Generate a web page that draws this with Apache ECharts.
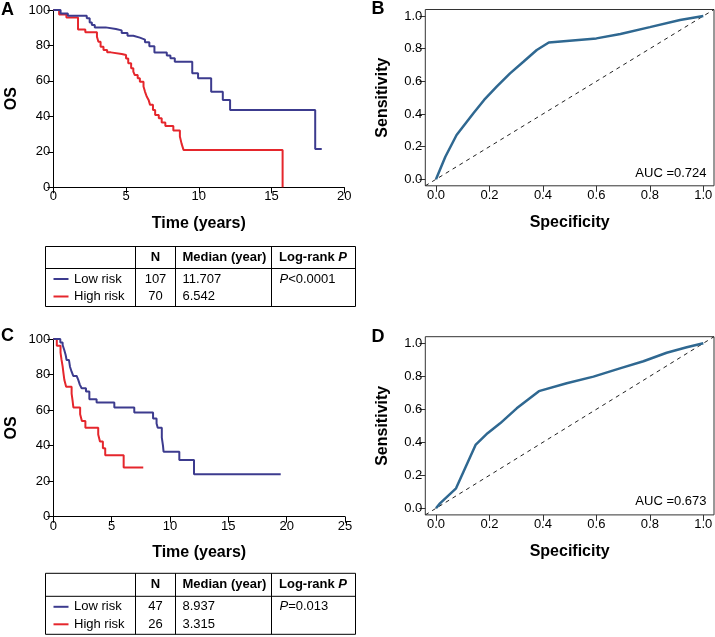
<!DOCTYPE html>
<html><head><meta charset="utf-8">
<script src="https://cdn.jsdelivr.net/npm/echarts@6/dist/echarts.min.js"></script>
<style>html,body{margin:0;padding:0;background:#fff}#c{width:715px;height:637px}</style>
</head><body><div id="c"></div>
<script>
// ---------- DATA ----------
// Panel A: Kaplan-Meier (time in years, OS %)
const kmA_low_t  = [0, 0.5, 1.0, 2.3, 2.5, 2.65, 2.85, 3.6, 4.3, 4.7, 5.1, 5.5, 5.95, 6.3, 6.6, 6.95, 7.8, 8.05, 8.35, 9.55, 9.95, 10.85, 11.65, 12.15, 18.0, 18.45];
const kmA_low_s  = [100, 98, 96.8, 95.3, 93, 91.5, 90.2, 89.3, 88.5, 87, 85.5, 84.4, 83.3, 81.8, 79.5, 76, 74.4, 72.8, 70.8, 64.3, 61.5, 53.9, 49.2, 43.6, 21.6, 21.6];
const kmA_high_t = [0, 0.4, 0.9, 1.7, 2.2, 3.0, 3.1, 3.25, 3.45, 3.7, 3.95, 4.7, 5.0, 5.15, 5.35, 5.5, 5.6, 5.8, 5.95, 6.2, 6.3, 6.42, 6.55, 6.65, 6.85, 7.0, 7.25, 7.45, 7.7, 8.25, 8.7, 8.82, 8.95, 15.76];
const kmA_high_s = [100, 97.5, 95.7, 89, 87.4, 84.9, 82.1, 79.3, 77.4, 76.1, 75.2, 74.6, 72.7, 70, 67.1, 65.2, 63.3, 61.5, 59.6, 56.8, 54, 51.2, 49.3, 46.5, 43.6, 40.8, 38.9, 36.5, 34.6, 32, 28.6, 24.5, 21.1, 0];
// Panel C: Kaplan-Meier
const kmC_low_t  = [0, 0.6, 0.8, 0.94, 1.06, 1.14, 1.34, 1.43, 1.57, 1.71, 2.0, 2.14, 2.28, 2.43, 2.8, 3.09, 3.71, 5.23, 6.94, 8.55, 8.85, 8.95, 9.3, 9.4, 9.45, 10.8, 12.06, 19.49];
const kmC_low_s  = [100, 98, 96.6, 93.8, 91, 88.2, 87.3, 84.4, 81.6, 79.2, 78.4, 77, 74.2, 72.3, 70.4, 66.1, 64.2, 61.5, 58.6, 55.2, 52.5, 50.0, 44.5, 40.0, 36.6, 31.9, 23.9, 23.9];
const kmC_high_t = [0, 0.3, 0.62, 0.7, 0.8, 0.87, 0.95, 1.1, 1.57, 1.65, 1.72, 2.3, 2.45, 2.75, 3.85, 4.0, 4.25, 4.45, 6.03, 7.71];
const kmC_high_s = [100, 96.2, 92.3, 88.5, 84.6, 80.8, 76.9, 73.1, 69.2, 65.4, 61.5, 57.7, 53.8, 50.0, 46.2, 42.3, 38.5, 34.6, 27.7, 27.7];
// Panel B / D: ROC curves
const rocB_x = [0, 0.035, 0.077, 0.14, 0.18, 0.227, 0.277, 0.327, 0.377, 0.422, 0.6, 0.69, 0.8, 0.913, 1.0];
const rocB_y = [0, 0.138, 0.271, 0.404, 0.486, 0.567, 0.649, 0.72, 0.792, 0.838, 0.863, 0.89, 0.932, 0.976, 1.0];
const rocD_x = [0, 0.015, 0.075, 0.148, 0.193, 0.24, 0.302, 0.385, 0.489, 0.589, 0.688, 0.776, 0.863, 0.938, 1.0];
const rocD_y = [0, 0.03, 0.121, 0.384, 0.455, 0.515, 0.606, 0.71, 0.758, 0.798, 0.848, 0.891, 0.943, 0.976, 1.0];
const diagRef = [-0.04, 1.04];
const aucB = '0.724', aucD = '0.673';
// Tick labels
const rocTicks = [0, 0.2, 0.4, 0.6, 0.8, 1.0];
// Tables
const tableHeader = ['', 'N', 'Median (year)', 'Log-rank P'];
const groups = ['Low risk', 'High risk'];
const tabA_N = [107, 70], tabA_med = ['11.707', '6.542'], tabA_p = 'P<0.0001';
const tabC_N = [47, 26],  tabC_med = ['8.937', '3.315'],  tabC_p = 'P=0.013';

// ---------- STYLE ----------
const FF = '"Liberation Sans", Arial, Helvetica, sans-serif';
const BLUE = '#3c3b8e', RED = '#e5262c', ROC = '#2f6891';
const zip = (a, b) => a.map((v, i) => [v, b[i]]);

function kmX(idx, max) {
  return { gridIndex: idx, type: 'value', min: 0, max: max, interval: 5,
    name: 'Time (years)', nameLocation: 'middle', nameGap: 28,
    nameTextStyle: { fontFamily: FF, fontWeight: 'bold', fontSize: 16, color: '#000' },
    axisLine: { show: true, onZero: false, lineStyle: { color: '#000', width: 1 } },
    axisTick: { show: true, length: 6, lineStyle: { color: '#000' } },
    axisLabel: { color: '#000', fontFamily: FF, fontSize: 13, margin: 3 },
    splitLine: { show: false } };
}
function kmY(idx) {
  return { gridIndex: idx, type: 'value', min: 0, max: 100, interval: 20,
    name: 'OS', nameLocation: 'middle', nameGap: 34, nameRotate: 90,
    nameTextStyle: { fontFamily: FF, fontWeight: 'bold', fontSize: 16, color: '#000' },
    axisLine: { show: true, onZero: false, lineStyle: { color: '#000', width: 1 } },
    axisTick: { show: true, length: 6, lineStyle: { color: '#000' } },
    axisLabel: { color: '#000', fontFamily: FF, fontSize: 13, margin: 3 },
    splitLine: { show: false } };
}
function rocAxis(idx, isX) {
  return { gridIndex: idx, type: 'value', min: diagRef[0], max: diagRef[1],
    name: isX ? 'Specificity' : 'Sensitivity', nameLocation: 'middle',
    nameGap: isX ? 29 : 35, nameRotate: isX ? 0 : 90,
    nameTextStyle: { fontFamily: FF, fontWeight: 'bold', fontSize: 16, color: '#000' },
    axisLine: { show: false, onZero: false },
    axisTick: { show: true, length: 6, customValues: rocTicks, lineStyle: { color: '#333' } },
    axisLabel: { color: '#000', fontFamily: FF, fontSize: 13, margin: 3,
      customValues: rocTicks, formatter: v => Number(v).toFixed(1) },
    splitLine: { show: false } };
}

function kmSeries(idx, t, s, color) {
  return { type: 'line', step: 'end', xAxisIndex: idx, yAxisIndex: idx, data: zip(t, s),
    symbol: 'none', lineStyle: { color: color, width: 2 }, animation: false, z: color === BLUE ? 3 : 2 };
}
function rocSeries(idx, x, y) {
  return { type: 'line', xAxisIndex: idx, yAxisIndex: idx, data: zip(x, y), symbol: 'none',
    lineStyle: { color: ROC, width: 2.5 }, animation: false, z: 3 };
}
function diagSeries(idx) {
  return { type: 'line', xAxisIndex: idx, yAxisIndex: idx, data: zip(diagRef, diagRef), symbol: 'none',
    lineStyle: { color: '#222', width: 1, type: [4, 4] }, animation: false, z: 2 };
}

// ---------- TABLES (graphic) ----------
function buildTable(top, headerH, Ns, meds, pText) {
  const cols = [45.5, 135.5, 175.5, 271.5, 355.5];
  const hb = top + headerH, bottom = hb + 38;
  const rowY = [hb + 10.5, hb + 28];
  const g = [];
  const line = (x1, y1, x2, y2) => g.push({ type: 'line', shape: { x1, y1, x2, y2 },
    style: { stroke: '#000', lineWidth: 1 }, silent: true });
  [top, hb, bottom].forEach(y => line(cols[0], y, cols[4], y));
  cols.forEach(x => line(x, top, x, bottom));
  const txt = (text, x, y, opt) => g.push({ type: 'text', x: x, y: y, silent: true,
    style: Object.assign({ text: text, fill: '#000', fontFamily: FF, fontSize: 13,
      align: 'left', verticalAlign: 'middle' }, opt || {}) });
  const hy = (top + hb) / 2;
  txt(tableHeader[1], (cols[1] + cols[2]) / 2, hy, { fontWeight: 'bold', align: 'center' });
  txt(tableHeader[2], cols[2] + 7, hy, { fontWeight: 'bold' });
  txt(tableHeader[3].replace(/P$/, '{bi|P}'), cols[3] + 7.5, hy, { fontWeight: 'bold',
    rich: { bi: { fontWeight: 'bold', fontStyle: 'italic', fontFamily: FF, fontSize: 13, fill: '#000' } } });
  groups.forEach((gname, i) => {
    g.push({ type: 'line', shape: { x1: 53.5, y1: rowY[i], x2: 68.5, y2: rowY[i] },
      style: { stroke: i === 0 ? BLUE : RED, lineWidth: 2 }, silent: true });
    txt(gname, 74, rowY[i]);
    txt(String(Ns[i]), (cols[1] + cols[2]) / 2, rowY[i], { align: 'center' });
    txt(meds[i], cols[2] + 7, rowY[i]);
  });
  txt(pText.replace(/^P/, '{i|P}'), cols[3] + 8, rowY[0],
    { rich: { i: { fontStyle: 'italic', fontFamily: FF, fontSize: 13, fill: '#000' } } });
  return g;
}

const letter = (t, x, y) => ({ type: 'text', x: x, y: y, silent: true,
  style: { text: t, fontFamily: FF, fontWeight: 'bold', fontSize: 18, fill: '#000', align: 'left', verticalAlign: 'middle' } });
const aucText = (v, y) => ({ type: 'text', x: 706.5, y: y, silent: true,
  style: { text: 'AUC =' + v, fontFamily: FF, fontSize: 13, fill: '#000', align: 'right', verticalAlign: 'middle' } });

const chart = echarts.init(document.getElementById('c'), null, { renderer: 'canvas' });
chart.setOption({
  backgroundColor: '#fff',
  animation: false,
  grid: [
    { left: 53.3, top: 10, width: 291, height: 177.3, outerBoundsMode: 'none' },
    { left: 425.3, top: 9.5, width: 288.7, height: 176.3, show: true, borderColor: '#333', borderWidth: 1, backgroundColor: 'transparent', outerBoundsMode: 'none' },
    { left: 53.3, top: 339, width: 291.7, height: 177.7, outerBoundsMode: 'none' },
    { left: 425.3, top: 336.7, width: 288.7, height: 178.2, show: true, borderColor: '#333', borderWidth: 1, backgroundColor: 'transparent', outerBoundsMode: 'none' }
  ],
  xAxis: [kmX(0, 20), rocAxis(1, true), kmX(2, 25), rocAxis(3, true)],
  yAxis: [kmY(0), rocAxis(1, false), kmY(2), rocAxis(3, false)],
  series: [
    kmSeries(0, kmA_high_t, kmA_high_s, RED),
    kmSeries(0, kmA_low_t, kmA_low_s, BLUE),
    diagSeries(1), rocSeries(1, rocB_x, rocB_y),
    kmSeries(2, kmC_high_t, kmC_high_s, RED),
    kmSeries(2, kmC_low_t, kmC_low_s, BLUE),
    diagSeries(3), rocSeries(3, rocD_x, rocD_y)
  ],
  graphic: [].concat(
    [letter('A', 1, 10), letter('B', 371.5, 9), letter('C', 1, 336), letter('D', 371.5, 337.5),
     aucText(aucB, 173), aucText(aucD, 501.7)],
    buildTable(246.5, 22, tabA_N, tabA_med, tabA_p),
    buildTable(573.3, 23, tabC_N, tabC_med, tabC_p)
  )
});
</script></body></html>
